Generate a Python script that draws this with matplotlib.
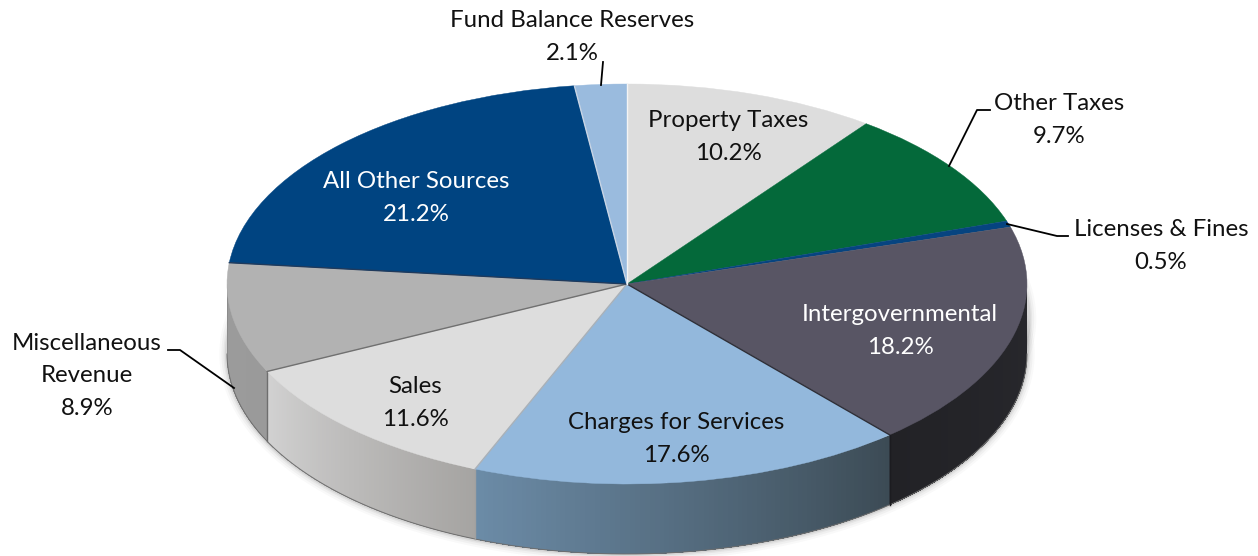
import numpy as np
import matplotlib
matplotlib.use('Agg')
import matplotlib.pyplot as plt

labels = ['Property Taxes', 'Other Taxes', 'Licenses & Fines', 'Intergovernmental',
          'Charges for Services', 'Sales', 'Miscellaneous\nRevenue', 'All Other Sources',
          'Fund Balance Reserves']
values = [10.2, 9.7, 0.5, 18.2, 17.6, 11.6, 8.9, 21.2, 2.1]
top_colors = ['#DDDDDD', '#04693A', '#064480', '#585564', '#93B8DC',
              '#DDDDDD', '#B2B2B2', '#004481', '#9ABBDE']
# wall colour at the start and at the end of each slice (clockwise), only the front ones show
wall_start = {3: '#2A2A2F', 4: '#3C4B55', 5: '#A6A4A2', 6: '#9A9A9A'}
wall_end = {3: '#222226', 4: '#6C8CA8', 5: '#D2D2D2', 6: '#9C9C9C'}
# separators between slices, index = slice before the line
sep_colors = {3: '#2E2E36', 4: '#A8B0B8', 5: '#707070', 6: '#1F3A5C', 7: '#C8D4E4', 8: '#F4F4F4'}

W, H = 1258, 556
CX, CY = 627, 284
RX, RY = 400, 200
DEPTH = 70

plt.rcParams['font.family'] = ['Lato', 'DejaVu Sans']


def px(x, y):
    # pixel of the reference -> data units of the pie
    return (x - CX) / RX, (CY - y) / RY


def rim(angle):
    a = np.radians(angle)
    return np.sin(a), np.cos(a)


def main():
    fig = plt.figure(figsize=(W / 100, H / 100), dpi=100)
    ax = fig.add_axes([0, 0, 1, 1])

    edges = np.concatenate([[0], np.cumsum(values)]) * 360 / sum(values)
    depth = DEPTH / RY

    # soft shadow under the walls
    arc = np.radians(np.linspace(80, 285, 200))
    for lw, alpha in [(11, 0.035), (8, 0.05), (5, 0.07), (3, 0.10)]:
        ax.plot(np.sin(arc), np.cos(arc) - depth, color='#555555', lw=lw, alpha=alpha,
                solid_capstyle='round', zorder=1)
        ax.plot(np.sin(arc[:60]) + 0.004, np.cos(arc[:60]) - depth * 0.5, color='#555555', lw=lw,
                alpha=alpha, zorder=1)

    # side walls, strips overlap the next one so no seams show
    for i, c0 in wall_start.items():
        a0, a1 = max(edges[i], 90), min(edges[i + 1], 270)
        steps = np.linspace(a0, a1, 90)
        c0 = np.array(matplotlib.colors.to_rgb(c0))
        c1 = np.array(matplotlib.colors.to_rgb(wall_end[i]))
        for k in range(len(steps) - 1):
            t0, t1 = edges[i], edges[i + 1]
            frac = (steps[k] - t0) / (t1 - t0)
            col = c0 + (c1 - c0) * frac
            part = np.radians(np.linspace(steps[k], a1, len(steps) - k))
            xs = np.sin(part)
            ys = np.cos(part)
            ax.fill(np.r_[xs, xs[::-1]], np.r_[ys, ys[::-1] - depth], color=col, lw=0, zorder=2)

    # thin outline along the bottom of the walls and the joints between them
    arc = np.radians(np.linspace(90, 270, 200))
    ax.plot(np.sin(arc), np.cos(arc) - depth, color='#6E6E6E', lw=0.7, zorder=3)
    ax.plot(-np.ones(2), [0, -depth], color='#8A8A8A', lw=0.6, zorder=3)
    for i, col in [(3, '#1C1C20'), (4, '#A0A0A0'), (5, '#6E6E6E')]:
        x, y = rim(edges[i + 1])
        ax.plot([x, x], [y, y - depth], color=col, lw=1.0, zorder=3)

    # top of the pie
    wedges, _ = ax.pie(values, colors=top_colors, startangle=90, counterclock=False, radius=1,
                       wedgeprops={'linewidth': 0.3})
    for w in wedges:
        w.set_edgecolor(w.get_facecolor())
        w.set_zorder(4)
    for i, col in sep_colors.items():
        x, y = rim(edges[i + 1])
        ax.plot([0, x], [0, y], color=col, lw=1.0, zorder=5)

    ax.set_aspect('auto')
    ax.set_xlim(-CX / RX, (W - CX) / RX)
    ax.set_ylim((CY - H) / RY, CY / RY)
    ax.axis('off')

    # labels
    centers = [(728, 137), (1059, 120), (1161, 246), (900, 331), (676, 439),
               (415, 403), (87, 376), (416, 198), (572, 37)]
    white = ['Intergovernmental', 'All Other Sources']
    for name, val, (x, y) in zip(labels, values, centers):
        tx, ty = px(x, y)
        ax.text(tx, ty, f'{name}\n{val}%', ha='center', va='center', fontsize=17.3,
                linespacing=1.7, color='white' if name in white else '#111111', zorder=6)

    # leader lines
    leaders = [[(601, 85), (603, 62)],
               [(949, 166), (977, 110), (990, 110)],
               [(1007, 224), (1057, 236), (1068, 236)],
               [(234, 388), (180, 350), (168, 350)]]
    for line in leaders:
        pts = np.array([px(*p) for p in line])
        ax.plot(pts[:, 0], pts[:, 1], color='black', lw=1.3, zorder=6)

    fig.savefig('out.png', dpi=100, facecolor='white')


if __name__ == "__main__":
    main()
